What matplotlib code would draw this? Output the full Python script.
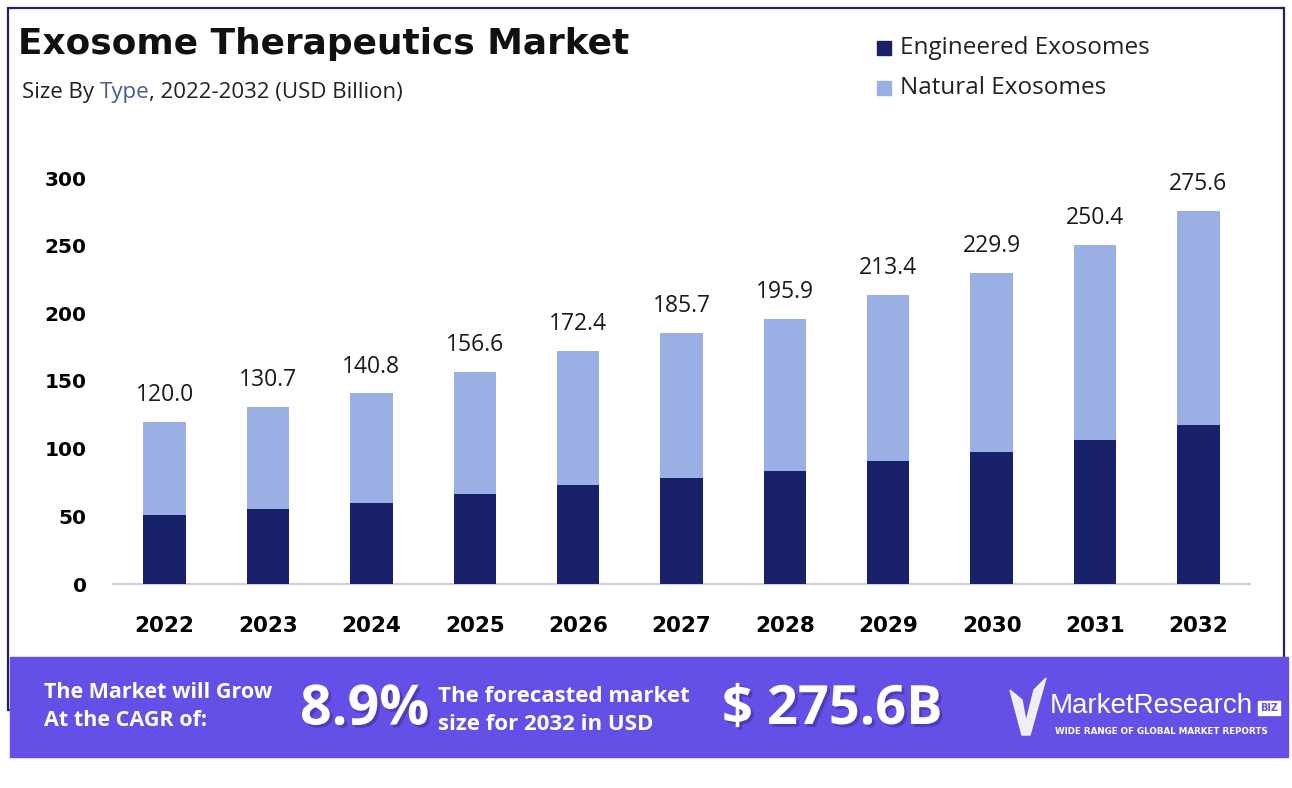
import matplotlib.pyplot as plt
import matplotlib.patches as mpatches
import matplotlib.patheffects as pe
import numpy as np

# --- Data ---
years = ["2022", "2023", "2024", "2025", "2026", "2027", "2028", "2029", "2030", "2031", "2032"]
totals = [120.0, 130.7, 140.8, 156.6, 172.4, 185.7, 195.9, 213.4, 229.9, 250.4, 275.6]
engineered = [51.0, 55.5, 60.0, 66.5, 73.0, 78.5, 83.5, 91.0, 97.5, 106.5, 117.5]
natural = [t - e for t, e in zip(totals, engineered)]
series_names = ["Engineered Exosomes", "Natural Exosomes"]
y_ticks = [0, 50, 100, 150, 200, 250, 300]

cagr_text = "8.9%"
forecast_text = "$ 275.6B"

# --- Style ---
DARK = "#19216A"
LIGHT = "#9AB0E4"
PURPLE = "#6450E6"
FONT = "Open Sans"
BOLD = "DejaVu Sans"

W, H = 1292, 788


def fx(px):
    return px / W


def fy(py):
    return 1 - py / H


fig = plt.figure(figsize=(W / 100, H / 100), dpi=100)
fig.patch.set_facecolor("white")

# frame around the chart
fig.add_artist(mpatches.Rectangle((fx(8), fy(710)), fx(1284) - fx(8), fy(8) - fy(710),
                                  transform=fig.transFigure, fill=False,
                                  edgecolor="#1E2458", linewidth=1.6))

# --- Bars ---
ax = fig.add_axes([fx(113), fy(584), fx(1250) - fx(113), fy(178) - fy(584)])
x = np.arange(len(years))
bar_w = 0.41
ax.bar(x, engineered, width=bar_w, color=DARK, zorder=3)
ax.bar(x, natural, width=bar_w, bottom=engineered, color=LIGHT, zorder=3)

for xi, t in zip(x, totals):
    ax.text(xi, t + 11, f"{t:.1f}", ha="center", va="bottom", fontsize=16.5,
            family=FONT, color="#1a1a1a", clip_on=False)

ax.set_xlim(-0.5, len(years) - 0.5)
ax.set_ylim(0, 300)
ax.set_yticks(y_ticks)
ax.set_yticklabels([str(v) for v in y_ticks], fontsize=14.5, fontweight="bold", family=BOLD)
ax.set_xticks(x)
ax.set_xticklabels(years, fontsize=15.5, fontweight="bold", family=BOLD)
ax.tick_params(axis="both", length=0)
ax.tick_params(axis="x", pad=23)
ax.tick_params(axis="y", pad=19)
for s in ["top", "right", "left"]:
    ax.spines[s].set_visible(False)
ax.spines["bottom"].set_color("#d0d0d0")
ax.spines["bottom"].set_linewidth(1.5)

# --- Title block ---
fig.text(fx(18), fy(44), "Exosome Therapeutics Market", fontsize=25.8, fontweight="bold",
         family=BOLD, va="center", ha="left", color="#111111")
t1 = fig.text(fx(22), fy(98), "Size By ", fontsize=16, family=FONT, color="#222222",
              va="baseline", ha="left")
ann1 = plt.annotate("Type", xy=(1, 0), xycoords=t1, fontsize=16, family=FONT,
                    color="#4A5A8C", va="bottom", ha="left")
plt.annotate(", 2022-2032 (USD Billion)", xy=(1, 0), xycoords=ann1, fontsize=16,
             family=FONT, color="#222222", va="bottom", ha="left")

# --- Legend ---
for i, (name, col) in enumerate(zip(series_names, [DARK, LIGHT])):
    ycen = 48 + i * 40
    fig.add_artist(mpatches.Rectangle((fx(877), fy(ycen + 7)), fx(14), fy(0) - fy(14),
                                      transform=fig.transFigure, color=col))
    fig.text(fx(900), fy(ycen), name, fontsize=17.5, family=FONT, va="center",
             ha="left", color="#222222")

# --- Bottom banner ---
fig.add_artist(mpatches.Rectangle((fx(10), fy(757)), fx(1288) - fx(10), fy(657) - fy(757),
                                  transform=fig.transFigure, color=PURPLE, zorder=5))
shadow = [pe.withSimplePatchShadow(offset=(2, -2), shadow_rgbFace="#3a2a90", alpha=0.5)]
fig.text(fx(44), fy(692), "The Market will Grow", fontsize=15.5, fontweight="bold",
         family=FONT, color="white", va="center", ha="left", zorder=6)
fig.text(fx(44), fy(721), "At the CAGR of:", fontsize=15.5, fontweight="bold",
         family=FONT, color="white", va="center", ha="left", zorder=6)
fig.text(fx(300), fy(710), cagr_text, fontsize=40, fontweight="bold", family=FONT,
         color="white", va="center", ha="left", zorder=6, path_effects=shadow)
fig.text(fx(438), fy(696), "The forecasted market", fontsize=16, fontweight="bold",
         family=FONT, color="white", va="center", ha="left", zorder=6)
fig.text(fx(438), fy(724), "size for 2032 in USD", fontsize=16, fontweight="bold",
         family=FONT, color="white", va="center", ha="left", zorder=6)
fig.text(fx(722), fy(710), forecast_text, fontsize=39, fontweight="bold", family=FONT,
         color="white", va="center", ha="left", zorder=6, path_effects=shadow)

# logo mark
check = np.array([[1010, 690], [1022, 700], [1026, 722], [1034, 690], [1046, 678],
                  [1030, 735], [1022, 735]])
fig.add_artist(mpatches.Polygon(np.column_stack([check[:, 0] / W, 1 - check[:, 1] / H]),
                                closed=True, transform=fig.transFigure,
                                color="white", alpha=0.9, zorder=6))
fig.text(fx(1050), fy(706), "MarketResearch", fontsize=20,
         family="Liberation Sans", color="white",
         va="center", ha="left", zorder=6)
fig.text(fx(1269), fy(708), "BIZ", fontsize=7, fontweight="bold", family="DejaVu Sans",
         color=PURPLE, va="center", ha="center", zorder=7,
         bbox=dict(boxstyle="square,pad=0.25", facecolor="white", edgecolor="white"))
fig.text(fx(1055), fy(732), "WIDE RANGE OF GLOBAL MARKET REPORTS", fontsize=6.3,
         fontweight="bold", family="DejaVu Sans", color="white", va="center",
         ha="left", zorder=6)

fig.savefig("out.png", dpi=100, facecolor="white")
